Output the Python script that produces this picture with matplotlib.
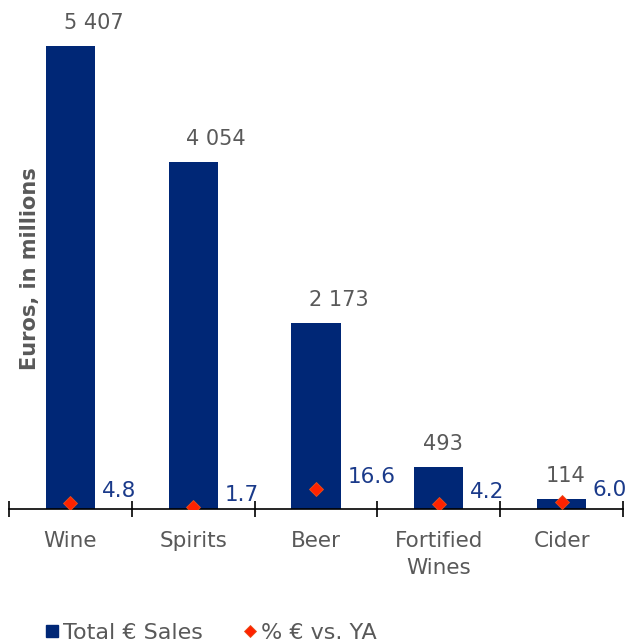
import matplotlib
matplotlib.use("Agg")
import matplotlib.pyplot as plt
from matplotlib.lines import Line2D

categories = ["Wine", "Spirits", "Beer", "Fortified\nWines", "Cider"]
sales = [5407, 4054, 2173, 493, 114]
sales_labels = ["5 407", "4 054", "2 173", "493", "114"]
pct = [4.8, 1.7, 16.6, 4.2, 6.0]
pct_labels = ["4.8", "1.7", "16.6", "4.2", "6.0"]

NAVY = "#002776"
GRAY = "#595959"
RED = "#FF2200"
LBLUE = "#1A3A8A"

plt.rcParams['font.family'] = ['DejaVu Sans']

fig = plt.figure(figsize=(6.27, 6.43), dpi=100)
ax = fig.add_axes([9/627, 134/643, 614/627, 509/643])
x = list(range(len(categories)))
ax.bar(x, sales, width=0.4, color=NAVY, zorder=2)
ax.set_xlim(-0.5, len(categories) - 0.5)
ax.set_ylim(0, 5944)
for s in ["top", "right", "left"]:
    ax.spines[s].set_visible(False)
ax.spines["bottom"].set_color("black")
ax.spines["bottom"].set_linewidth(1.2)
ax.set_yticks([])
ax.set_xticks(x)
ax.set_xticklabels(categories, fontsize=15.5, color=GRAY, linespacing=1.45)
ax.tick_params(axis="x", which="major", length=0, pad=16)
ax.set_xticks([i - 0.5 for i in range(len(categories) + 1)], minor=True)
ax.tick_params(axis="x", which="minor", direction="inout", length=11, width=1.2, color="black")
ax.patch.set_visible(False)

for xi, v, lab in zip(x, sales, sales_labels):
    dx = 16.6 if " " in lab else 2.9
    ax.annotate(lab, (xi, v), xytext=(dx, 16.5), textcoords="offset points",
                ha="center", va="center", fontsize=15, color=GRAY)

ax2 = ax.twinx()
ax2.set_ylim(0, 417)
for s in ["top", "right", "left", "bottom"]:
    ax2.spines[s].set_visible(False)
ax2.set_yticks([])
ax2.plot(x, pct, linestyle="none", marker="D", markersize=7.5,
         markerfacecolor=RED, markeredgecolor="#E8501A", markeredgewidth=0.6, zorder=3)
for xi, v, lab in zip(x, pct, pct_labels):
    ax2.annotate(lab, (xi, v), xytext=(22.5, 8.5), textcoords="offset points",
                 ha="left", va="center", fontsize=15.5, color=LBLUE)

fig.text(30/627, 0.5824, "Euros, in millions", rotation=90, ha="center", va="center",
         fontsize=15, fontweight="bold", color=GRAY)

handles = [
    Line2D([], [], linestyle="none", marker="s", markersize=8.5, markerfacecolor=NAVY,
           markeredgecolor=NAVY),
    Line2D([], [], linestyle="none", marker="D", markersize=6.5, markerfacecolor=RED,
           markeredgecolor="#E8501A", markeredgewidth=0.6),
]
fig.legend(handles, ["Total € Sales", "% € vs. YA"], loc="center left",
           bbox_to_anchor=(43/627, 1 - 633/643), ncol=2, frameon=False,
           fontsize=16, labelcolor=GRAY, handletextpad=0.1, columnspacing=1.7,
           handlelength=0.8, borderaxespad=0, borderpad=0)

fig.savefig("out.png", dpi=100)
